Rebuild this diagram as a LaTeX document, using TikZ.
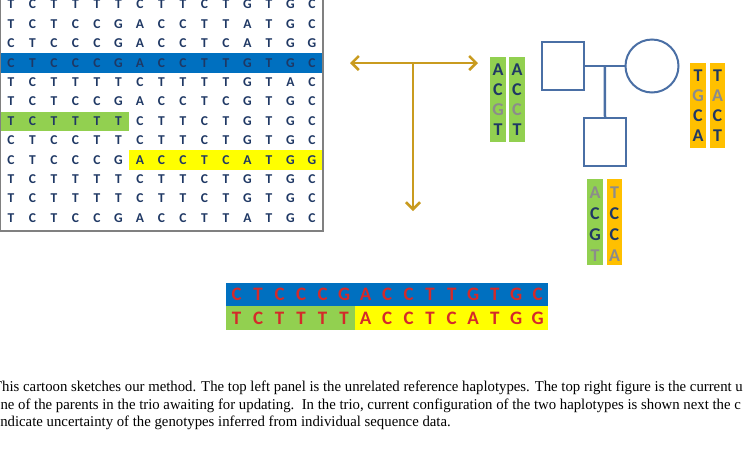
\documentclass[tikz,border=0pt]{standalone}
\usepackage{fontspec}
\setmainfont{Liberation Serif}
\setsansfont{Carlito}
\usetikzlibrary{arrows.meta,calc}

\definecolor{navy}{HTML}{1F3864}
\definecolor{faint}{HTML}{8C8C8C}
\definecolor{hapblue}{HTML}{0070C0}
\definecolor{hapgreen}{HTML}{92D050}
\definecolor{hapyellow}{HTML}{FFFF00}
\definecolor{haporange}{HTML}{FFC000}
\definecolor{hapred}{HTML}{D42A2A}
\definecolor{pedblue}{HTML}{4A6FA5}
\definecolor{gold}{HTML}{C99B1F}

\tikzset{
  base/.style={font=\sffamily\bfseries\fontsize{13.5}{13.5}\selectfont, text=navy, inner sep=0pt},
  bar/.style={font=\sffamily\bfseries\fontsize{19}{19}\selectfont, text=hapred, inner sep=0pt},
  col/.style={font=\sffamily\bfseries\fontsize{18}{18}\selectfont, inner sep=0pt},
  person/.style={draw=pedblue, line width=2pt, minimum width=42pt, minimum height=48pt, inner sep=0pt},
  link/.style={draw=pedblue, line width=2.5pt},
  pointer/.style={draw=gold, line width=2.5pt},
  caption/.style={font=\fontsize{15}{15}\selectfont, anchor=base west, inner sep=0pt, xscale=0.985, transform shape}
}

\begin{document}
\begin{tikzpicture}[x=1pt, y=-1pt]
    \useasboundingbox (0,0) rectangle (745,448);
    \clip (0,0) rectangle (745,448);

    % reference panel
    \fill[hapblue] (0,53) rectangle (323,73);
    \fill[hapgreen] (0,112) rectangle (129,131);
    \fill[hapyellow] (129,150) rectangle (322,170);
    \draw[gray, line width=1.5pt] (0.5,-10) rectangle (323,231);
    \foreach \row [count=\j] in {
        {T,C,T,T,T,T,C,T,T,C,T,G,T,G,C},
        {T,C,T,C,C,G,A,C,C,T,T,A,T,G,C},
        {C,T,C,C,C,G,A,C,C,T,C,A,T,G,G},
        {C,T,C,C,C,G,A,C,C,T,T,G,T,G,C},
        {T,C,T,T,T,T,C,T,T,T,T,G,T,A,C},
        {T,C,T,C,C,G,A,C,C,T,C,G,T,G,C},
        {T,C,T,T,T,T,C,T,T,C,T,G,T,G,C},
        {C,T,C,C,T,T,C,T,T,C,T,G,T,G,C},
        {C,T,C,C,C,G,A,C,C,T,C,A,T,G,G},
        {T,C,T,T,T,T,C,T,T,C,T,G,T,G,C},
        {T,C,T,T,T,T,C,T,T,C,T,G,T,G,C},
        {T,C,T,C,C,G,A,C,C,T,T,A,T,G,C}}
        \foreach \b [count=\i] in \row
            \node[base] (g\j-\i) at ({11+21.5*(\i-1)}, {4.5+19.4*(\j-1)}) {\b};

    % arrows
    \coordinate (hub) at (413,63);
    \coordinate (west) at (350,63);
    \coordinate (east) at (478,63);
    \coordinate (south) at (413,211);
    \draw[pointer, {Straight Barb[length=7pt,width=14pt]}-{Straight Barb[length=7pt,width=14pt]}] (west) -- (east);
    \draw[pointer, -{Straight Barb[length=7pt,width=14pt]}] (hub) -- (south);

    % trio
    \node[person] (dad) at (563,66) {};
    \node[person, circle, minimum size=53pt] (mom) at (652,66) {};
    \node[person] (kid) at (605,142) {};
    \coordinate (mid) at ($(dad.east)!0.5!(mom.west)$);
    \draw[link] (dad.east) -- (mom.west);
    \draw[link] (mid) -- (kid.north);

    % current haplotypes
    \fill[hapgreen] (490,57) rectangle (506,142);
    \fill[hapgreen] (509,57) rectangle (525,142);
    \fill[haporange] (690,63) rectangle (706,148);
    \fill[haporange] (710,63) rectangle (725,148);
    \fill[hapgreen] (587,179) rectangle (603,265);
    \fill[haporange] (607,179) rectangle (622,265);
    \foreach \b/\c [count=\k] in {A/navy,C/navy,G/faint,T/navy}
        \node[col, text=\c] (da-\k) at (498, {50+20*\k}) {\b};
    \foreach \b/\c [count=\k] in {A/navy,C/navy,C/faint,T/navy}
        \node[col, text=\c] (db-\k) at (517, {50+20*\k}) {\b};
    \foreach \b/\c [count=\k] in {T/navy,G/faint,C/navy,A/navy}
        \node[col, text=\c] (ma-\k) at (698, {56+20*\k}) {\b};
    \foreach \b/\c [count=\k] in {T/navy,A/faint,C/navy,T/navy}
        \node[col, text=\c] (mb-\k) at (717.5, {56+20*\k}) {\b};
    \foreach \b/\c [count=\k] in {A/faint,C/navy,G/navy,T/faint}
        \node[col, text=\c] (ka-\k) at (595, {172+21*\k}) {\b};
    \foreach \b/\c [count=\k] in {T/faint,C/navy,C/navy,A/faint}
        \node[col, text=\c] (kb-\k) at (614.5, {172+21*\k}) {\b};

    % updated haplotypes
    \fill[hapblue] (226,283) rectangle (548,306);
    \fill[hapgreen] (226,306) rectangle (355,330);
    \fill[hapyellow] (355,306) rectangle (548,330);
    \foreach \b [count=\i] in {C,T,C,C,C,G,A,C,C,T,T,G,T,G,C}
        \node[bar] (ua-\i) at ({236.7+21.5*(\i-1)}, 294.5) {\b};
    \foreach \b [count=\i] in {T,C,T,T,T,T,A,C,C,T,C,A,T,G,G}
        \node[bar] (ub-\i) at ({236.7+21.5*(\i-1)}, 318) {\b};

    % caption
    \node[caption] (cap1) at (-7,391) {This cartoon sketches our method. The top left panel is the unrelated reference haplotypes. The top right figure is the current u};
    \node[caption] (cap2) at (-7,409) {one of the parents in the trio awaiting for updating.\ \ In the trio, current configuration of the two haplotypes is shown next the c};
    \node[caption] (cap3) at (-4,426) {indicate uncertainty of the genotypes inferred from individual sequence data.};
\end{tikzpicture}
\end{document}
